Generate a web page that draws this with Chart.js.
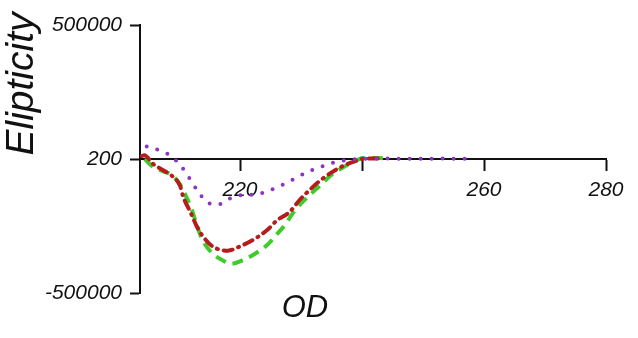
<!DOCTYPE html>
<html>
<head>
<meta charset="utf-8">
<script src="https://cdn.jsdelivr.net/npm/chart.js@4.4.1/dist/chart.umd.min.js"></script>
<style>
  html, body { margin:0; padding:0; background:#fff; }
  #wrap { width:638px; height:338px; position:relative; }
</style>
</head>
<body>
<div id="wrap"><canvas id="cd"></canvas></div>
<script>
const xTickValues = [220, 240, 260, 280];
const xTickLabels = ['220', '', '260', '280'];
const yTickValues = [-500000, 0, 500000];
const yTickLabels = ['-500000', '200', '500000'];

const purpleX = [204.7, 206.8, 208.5, 210.0, 211.1, 212.2, 213.3, 214.6, 216.4, 218.2, 220.3, 222.2, 224.0, 225.8, 227.6, 229.4, 231.3, 233.1, 235.0, 236.9, 239.5, 243, 248, 253, 257];
const purpleY = [47000, 32000, 14000, -17500, -50000, -90000, -127000, -162000, -170000, -149000, -135000, -133000, -124000, -108000, -90000, -68000, -46000, -31000, -15000, -6000, 0, 2000, 1000, 1500, 1000];

const redX = [203.9, 204.3, 205.7, 207.4, 208.8, 210.2, 210.6, 212.0, 212.9, 213.8, 215.5, 218.0, 220.0, 222.5, 224.5, 226.0, 228.1, 229.8, 231.3, 233.1, 235.3, 237.1, 238.8, 240.5, 243];
const redY = [11000, 14000, -17500, -42000, -62000, -102000, -135000, -205000, -251000, -285000, -326000, -342000, -326000, -297000, -264000, -230000, -198000, -152000, -118000, -81000, -46000, -23500, -8500, 2000, 2000];

const greenX = [204.4, 205.5, 207.4, 208.7, 210.2, 210.9, 212.1, 212.8, 213.7, 215.4, 217.0, 218.6, 220.3, 222.2, 224.4, 226.0, 227.4, 228.7, 230.1, 231.5, 233.4, 235.0, 236.9, 238.8, 240.2, 242.6, 244];
const greenY = [0, -25000, -46000, -58500, -96000, -127000, -189000, -239000, -295000, -351000, -376000, -391000, -379000, -357000, -322000, -282000, -245000, -201000, -164000, -133000, -93000, -58500, -31000, -8500, 3500, 3500, 2500];

function pts(xs, ys){ return xs.map((x, i) => ({x, y: ys[i]})); }

const titlesPlugin = {
  id: 'titles',
  afterDraw(chart){
    const {ctx} = chart;
    ctx.save();
    ctx.fillStyle = '#111';
    ctx.textAlign = 'center';
    ctx.textBaseline = 'middle';
    ctx.font = 'italic 31px "Liberation Sans", Arial, sans-serif';
    ctx.fillText('OD', 305, 308);
    ctx.translate(22, 84);
    ctx.rotate(-Math.PI / 2);
    ctx.font = 'italic 39px "Liberation Sans", Arial, sans-serif';
    ctx.fillText('Elipticity', 0, 0);
    ctx.restore();
  }
};

const tickFont = { family: '"Liberation Sans", Arial, sans-serif', size: 21, style: 'italic' };

new Chart(document.getElementById('cd'), {
  type: 'line',
  data: {
    datasets: [
      { label: 'a', data: pts(purpleX, purpleY), borderColor: '#8a35c4', borderWidth: 4,
        borderDash: [0, 11], borderCapStyle: 'round', pointRadius: 0, cubicInterpolationMode: 'monotone', fill: false },
      { label: 'b', data: pts(redX, redY), borderColor: '#b51d1d', borderWidth: 4,
        borderDash: [9, 6, 1, 6], borderCapStyle: 'round', pointRadius: 0, cubicInterpolationMode: 'monotone', fill: false },
      { label: 'c', data: pts(greenX, greenY), borderColor: '#3fcc2a', borderWidth: 4,
        borderDash: [11, 7], borderCapStyle: 'butt', pointRadius: 0, cubicInterpolationMode: 'monotone', fill: false }
    ]
  },
  options: {
    responsive: true,
    maintainAspectRatio: false,
    animation: false,
    layout: { padding: { top: 25, right: 32, bottom: 45, left: 0 } },
    plugins: { legend: { display: false }, tooltip: { enabled: false } },
    scales: {
      x: {
        type: 'linear', min: 203.6, max: 280, position: { y: 0 },
        afterBuildTicks: s => { s.ticks = xTickValues.map(v => ({ value: v })); },
        ticks: { autoSkip: false, maxRotation: 0, padding: 8, color: '#111', font: tickFont,
          callback: v => xTickLabels[xTickValues.indexOf(v)] },
        grid: { drawOnChartArea: false, drawTicks: true, tickLength: 11, tickWidth: 2, color: '#111' },
        border: { display: true, color: '#111', width: 2 }
      },
      y: {
        min: -500000, max: 500000,
        afterBuildTicks: s => { s.ticks = yTickValues.map(v => ({ value: v })); },
        afterFit: s => { s.width = 140; },
        ticks: { autoSkip: false, padding: 8, color: '#111', font: tickFont,
          callback: v => yTickLabels[yTickValues.indexOf(v)] },
        grid: { drawOnChartArea: false, drawTicks: true, tickLength: 10, tickWidth: 2, color: '#111' },
        border: { display: true, color: '#111', width: 2 }
      }
    }
  },
  plugins: [titlesPlugin]
});
</script>
</body>
</html>
